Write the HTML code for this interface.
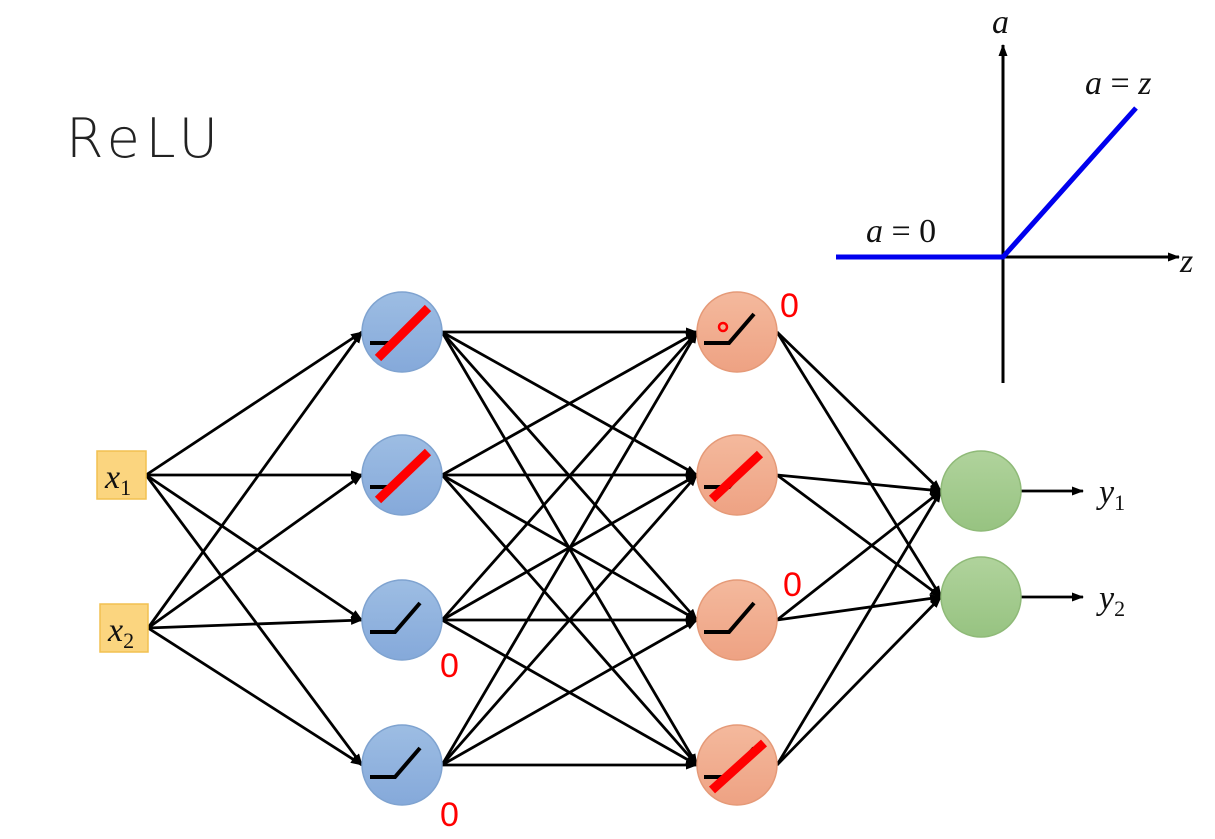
<!DOCTYPE html>
<html><head><meta charset="utf-8"><style>
html,body{margin:0;padding:0;background:#fff;}
svg{display:block;}
</style></head><body>
<svg width="1215" height="839" viewBox="0 0 1215 839" xmlns="http://www.w3.org/2000/svg">
<defs>
<marker id="ar" markerWidth="12" markerHeight="9" refX="11" refY="4.5" orient="auto" markerUnits="userSpaceOnUse">
<path d="M0,0 L12,4.5 L0,9 z" fill="#000"/></marker>
<linearGradient id="gb" x1="0" y1="0" x2="0" y2="1"><stop offset="0" stop-color="#9dbde3"/><stop offset="1" stop-color="#85a9da"/></linearGradient>
<linearGradient id="go" x1="0" y1="0" x2="0" y2="1"><stop offset="0" stop-color="#f4b99d"/><stop offset="1" stop-color="#eea283"/></linearGradient>
<linearGradient id="gg" x1="0" y1="0" x2="0" y2="1"><stop offset="0" stop-color="#b0d39c"/><stop offset="1" stop-color="#97c381"/></linearGradient>
</defs>
<text x="66" y="157" font-family="DejaVu Sans, sans-serif" font-size="54" fill="#222" font-weight="300" textLength="152">ReLU</text>

<!-- graph -->
<g stroke="#000" stroke-width="3" fill="none">
<line x1="1003" y1="383" x2="1003" y2="45" marker-end="url(#ar)"/>
<line x1="836" y1="257" x2="1179" y2="257" marker-end="url(#ar)"/>
</g>
<polyline points="836,257 1003,257 1136,108" stroke="#0000ee" stroke-width="5" fill="none"/>
<g font-family="Liberation Serif, serif" font-style="italic" font-size="34" fill="#111">
<text x="992" y="33">a</text>
<text x="1085" y="94">a <tspan font-style="normal">=</tspan> z</text>
<text x="866" y="242">a <tspan font-style="normal">= 0</tspan></text>
<text x="1180" y="272">z</text>
</g>

<!-- edges -->
<g stroke="#000" stroke-width="2.8" marker-end="url(#ar)">
<line x1="146" y1="475" x2="362" y2="332"/><line x1="146" y1="475" x2="362" y2="475"/><line x1="146" y1="475" x2="362" y2="620"/><line x1="146" y1="475" x2="362" y2="765"/>
<line x1="148" y1="628" x2="362" y2="332"/><line x1="148" y1="628" x2="362" y2="475"/><line x1="148" y1="628" x2="362" y2="620"/><line x1="148" y1="628" x2="362" y2="765"/>
<line x1="442" y1="332" x2="697" y2="332"/><line x1="442" y1="332" x2="697" y2="475"/><line x1="442" y1="332" x2="697" y2="620"/><line x1="442" y1="332" x2="697" y2="765"/>
<line x1="442" y1="475" x2="697" y2="332"/><line x1="442" y1="475" x2="697" y2="475"/><line x1="442" y1="475" x2="697" y2="620"/><line x1="442" y1="475" x2="697" y2="765"/>
<line x1="442" y1="620" x2="697" y2="332"/><line x1="442" y1="620" x2="697" y2="475"/><line x1="442" y1="620" x2="697" y2="620"/><line x1="442" y1="620" x2="697" y2="765"/>
<line x1="442" y1="765" x2="697" y2="332"/><line x1="442" y1="765" x2="697" y2="475"/><line x1="442" y1="765" x2="697" y2="620"/><line x1="442" y1="765" x2="697" y2="765"/>
<line x1="777" y1="332" x2="941" y2="491"/><line x1="777" y1="332" x2="941" y2="597"/>
<line x1="777" y1="475" x2="941" y2="491"/><line x1="777" y1="475" x2="941" y2="597"/>
<line x1="777" y1="620" x2="941" y2="491"/><line x1="777" y1="620" x2="941" y2="597"/>
<line x1="777" y1="765" x2="941" y2="491"/><line x1="777" y1="765" x2="941" y2="597"/>
<line x1="1021" y1="491" x2="1083" y2="491"/><line x1="1021" y1="597" x2="1083" y2="597"/>
</g>

<!-- inputs -->
<rect x="97" y="451" width="49" height="48" fill="#fbd57f" stroke="#f2c050" stroke-width="1.5"/>
<rect x="100" y="604" width="48" height="48" fill="#fbd57f" stroke="#f2c050" stroke-width="1.5"/>
<g font-family="Liberation Serif, serif" fill="#111">
<text x="105" y="488" font-size="34" font-style="italic">x<tspan font-size="22" font-style="normal" dy="7">1</tspan></text>
<text x="108" y="641" font-size="34" font-style="italic">x<tspan font-size="22" font-style="normal" dy="7">2</tspan></text>
<text x="1099" y="503" font-size="34" font-style="italic">y<tspan font-size="22" font-style="normal" dy="7">1</tspan></text>
<text x="1099" y="609" font-size="34" font-style="italic">y<tspan font-size="22" font-style="normal" dy="7">2</tspan></text>
</g>

<!-- nodes -->
<g stroke-width="1.5">
<circle cx="402" cy="332" r="40" fill="url(#gb)" stroke="#7fa3d0"/>
<circle cx="402" cy="475" r="40" fill="url(#gb)" stroke="#7fa3d0"/>
<circle cx="402" cy="620" r="40" fill="url(#gb)" stroke="#7fa3d0"/>
<circle cx="402" cy="765" r="40" fill="url(#gb)" stroke="#7fa3d0"/>
<circle cx="737" cy="332" r="40" fill="url(#go)" stroke="#e59a78"/>
<circle cx="737" cy="475" r="40" fill="url(#go)" stroke="#e59a78"/>
<circle cx="737" cy="620" r="40" fill="url(#go)" stroke="#e59a78"/>
<circle cx="737" cy="765" r="40" fill="url(#go)" stroke="#e59a78"/>
<circle cx="981" cy="491" r="40" fill="url(#gg)" stroke="#8fba78"/>
<circle cx="981" cy="597" r="40" fill="url(#gg)" stroke="#8fba78"/>
</g>
<!-- relu icons -->
<g stroke="#000" stroke-width="4" fill="none">
<polyline points="370,343 395,343 420,314" />
<polyline points="370,487 395,487 420,458" />
<polyline points="370,632 395,632 420,603" />
<polyline points="370,777 395,777 420,748" />
<polyline points="704,343 729,343 754,314" />
<polyline points="704,487 729,487 754,458" />
<polyline points="704,632 729,632 754,603" />
<polyline points="704,777 729,777 754,748" />
</g>
<g stroke="#ff0000" stroke-width="9" stroke-linecap="butt">
<line x1="378" y1="358" x2="428" y2="308"/>
<line x1="378" y1="500" x2="428" y2="452"/>
<line x1="712" y1="499" x2="760" y2="454"/>
<line x1="712" y1="790" x2="764" y2="743"/>
</g>
<circle cx="723" cy="327" r="4" fill="none" stroke="#ff0000" stroke-width="2.5"/>
<g font-family="Liberation Sans, sans-serif" font-size="34" fill="#ff0000">
<text x="780" y="317">0</text>
<text x="783" y="596">0</text>
<text x="440" y="677">0</text>
<text x="440" y="826">0</text>
</g>
</svg>
</body></html>
